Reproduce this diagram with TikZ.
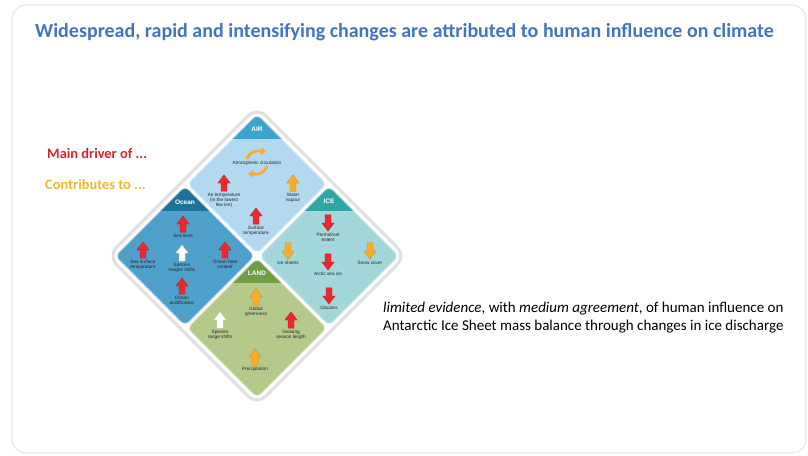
\documentclass[tikz,border=0pt]{standalone}
\usepackage{fontspec}
\setmainfont{Carlito}
\newfontfamily\diagfont{Liberation Sans}
\usetikzlibrary{arrows.meta,positioning}
\definecolor{titleblue}{RGB}{68,114,196}
\definecolor{slideedge}{RGB}{226,232,240}
\definecolor{airbody}{RGB}{178,217,240}
\definecolor{airhead}{RGB}{60,163,207}
\definecolor{oceanbody}{RGB}{79,160,203}
\definecolor{oceanhead}{RGB}{30,114,153}
\definecolor{icebody}{RGB}{163,215,219}
\definecolor{icehead}{RGB}{47,166,163}
\definecolor{landbody}{RGB}{181,201,139}
\definecolor{landhead}{RGB}{111,158,69}
\definecolor{driverred}{RGB}{235,40,45}
\definecolor{contriborange}{RGB}{250,172,40}
\definecolor{legendred}{RGB}{222,34,42}
\definecolor{legendyellow}{RGB}{240,182,46}
% one coloured quarter of the diamond: centre x, centre y, body colour, header colour
\newcommand{\quadrant}[4]{%
  \begin{scope}
    \clip[rounded corners=6pt] (#1-70,#2) -- (#1,#2-70) -- (#1+70,#2) -- (#1,#2+70) -- cycle;
    \fill[#3] (#1-70,#2-70) rectangle (#1+70,#2+70);
    \fill[#4] (#1-70,#2-70) rectangle (#1+70,#2-45);
  \end{scope}
  \draw[rounded corners=6pt,white,opacity=0.55,line width=1.2pt] (#1-70,#2) -- (#1,#2-70) -- (#1+70,#2) -- (#1,#2+70) -- cycle;
}
\newcommand{\ppb}{path picture bounding box}

\begin{document}
\begin{tikzpicture}[
  x=1pt,y=-1pt,
  arrbox/.style={rectangle,inner sep=0pt,minimum width=13pt,minimum height=17pt},
  uparr/.style={arrbox,path picture={\filldraw[fill=#1,draw=#1!80!black,line width=0.3pt]
    ([shift={(-3pt,0.3pt)}]\ppb.south) -- ([shift={(-3pt,8.5pt)}]\ppb.south) -- ([shift={(-6.2pt,8.5pt)}]\ppb.south)
    -- ([yshift=-0.4pt]\ppb.north) -- ([shift={(6.2pt,8.5pt)}]\ppb.south) -- ([shift={(3pt,8.5pt)}]\ppb.south)
    -- ([shift={(3pt,0.3pt)}]\ppb.south) -- cycle;}},
  dnarr/.style={arrbox,path picture={\filldraw[fill=#1,draw=#1!80!black,line width=0.3pt]
    ([shift={(-3pt,-0.3pt)}]\ppb.north) -- ([shift={(-3pt,-8.5pt)}]\ppb.north) -- ([shift={(-6.2pt,-8.5pt)}]\ppb.north)
    -- ([yshift=0.4pt]\ppb.south) -- ([shift={(6.2pt,-8.5pt)}]\ppb.north) -- ([shift={(3pt,-8.5pt)}]\ppb.north)
    -- ([shift={(3pt,-0.3pt)}]\ppb.north) -- cycle;}},
  redup/.style={uparr=driverred},
  orgup/.style={uparr=contriborange},
  whtup/.style={uparr=white},
  reddn/.style={dnarr=driverred},
  orgdn/.style={dnarr=contriborange},
  lbl/.style={font=\diagfont\fontsize{4.7}{5.3}\selectfont,align=center,inner sep=0pt,text=black!85},
  head/.style={font=\diagfont\bfseries\fontsize{6.5}{7}\selectfont,text=white,inner sep=0pt},
  circarr/.style={contriborange,line width=2.6pt,-{Triangle[length=5pt,width=7.5pt]}}
]
\useasboundingbox (0,0) rectangle (808,455);
% slide frame
\draw[slideedge,line width=1.2pt,rounded corners=14pt] (12,5) rectangle (806,453);

\node[font=\bfseries\fontsize{20}{22}\selectfont,text=titleblue,anchor=west,inner sep=0pt] (title) at (35,32)
  {Widespread, rapid and intensifying changes are attributed to human influence on climate};

% legend
\node[font=\bfseries\fontsize{14.4}{16}\selectfont,text=legendred,anchor=west,inner sep=0pt] (driver) at (47,153) {Main driver of ...};
\node[font=\bfseries\fontsize{14.4}{16}\selectfont,text=legendyellow,anchor=west,inner sep=0pt] (contrib) at (45,184) {Contributes to ...};

% outer frame of the diamond
\draw[black!12,line width=3pt,fill=white,rounded corners=12pt] (108,256) -- (257,107) -- (406,256) -- (257,405) -- cycle;

\quadrant{257}{184}{airbody}{airhead}
\quadrant{185}{256}{oceanbody}{oceanhead}
\quadrant{329}{256}{icebody}{icehead}
\quadrant{257}{328}{landbody}{landhead}

\node[head] (airhd) at (257,129) {AIR};
\node[head] (oceanhd) at (185,202) {Ocean};
\node[head] (icehd) at (329,201) {ICE};
\node[head] (landhd) at (257,273) {LAND};

% AIR
\node[lbl] (atmcirc) at (257,163) {Atmospheric circulation};
\draw[circarr] (247,159) .. controls (249,152) and (256,150) .. (266,152);
\draw[circarr] (267,166) .. controls (265,173) and (258,175) .. (248,173);
\node[redup] (airtemp) at (224,183) {};
\node[lbl,below=1pt of airtemp] (airtempT) {Air temperature\\(in the lowest\\few km)};
\node[orgup] (watvap) at (293,183) {};
\node[lbl,below=1pt of watvap] (watvapT) {Water\\vapour};
\node[redup] (surftemp) at (256,216) {};
\node[lbl,below=1pt of surftemp] (surftempT) {Surface\\temperature};

% Ocean
\node[redup] (sealevel) at (183,224) {};
\node[lbl,below=1pt of sealevel] (sealevelT) {Sea level};
\node[redup] (sst) at (143,250) {};
\node[lbl,below=1pt of sst] (sstT) {Sea surface\\temperature};
\node[whtup] (ospecies) at (182,253) {};
\node[lbl,below=1pt of ospecies] (ospeciesT) {Species\\ranges shifts};
\node[redup] (ohc) at (225,250) {};
\node[lbl,below=1pt of ohc] (ohcT) {Ocean heat\\content};
\node[redup] (acid) at (182,286) {};
\node[lbl,below=1pt of acid] (acidT) {Ocean\\acidification};

% ICE
\node[reddn] (permafrost) at (328,223) {};
\node[lbl,below=1pt of permafrost] (permafrostT) {Permafrost\\extent};
\node[orgdn] (icesheets) at (288,251) {};
\node[lbl,below=1pt of icesheets] (icesheetsT) {Ice sheets};
\node[orgdn] (snow) at (370,251) {};
\node[lbl,below=1pt of snow] (snowT) {Snow cover};
\node[reddn] (seaice) at (328,262) {};
\node[lbl,below=1pt of seaice] (seaiceT) {Arctic sea ice};
\node[reddn] (glaciers) at (329,296) {};
\node[lbl,below=1pt of glaciers] (glaciersT) {Glaciers};

% LAND
\node[orgup] (green) at (256,297) {};
\node[lbl,below=1pt of green] (greenT) {Global\\greenness};
\node[whtup] (lspecies) at (220,320) {};
\node[lbl,below=1pt of lspecies] (lspeciesT) {Species\\range shifts};
\node[redup] (season) at (291,320) {};
\node[lbl,below=1pt of season] (seasonT) {Growing\\season length};
\node[orgup] (precip) at (255,357) {};
\node[lbl,below=1pt of precip] (precipT) {Precipitation};

% Antarctic note
\node[font=\fontsize{15}{17.5}\selectfont,align=left,anchor=north west,inner sep=0pt] (note) at (383,302)
  {\textit{limited evidence}, with \textit{medium agreement}, of human influence on\\
   Antarctic Ice Sheet mass balance through changes in ice discharge};
\end{tikzpicture}
\end{document}
